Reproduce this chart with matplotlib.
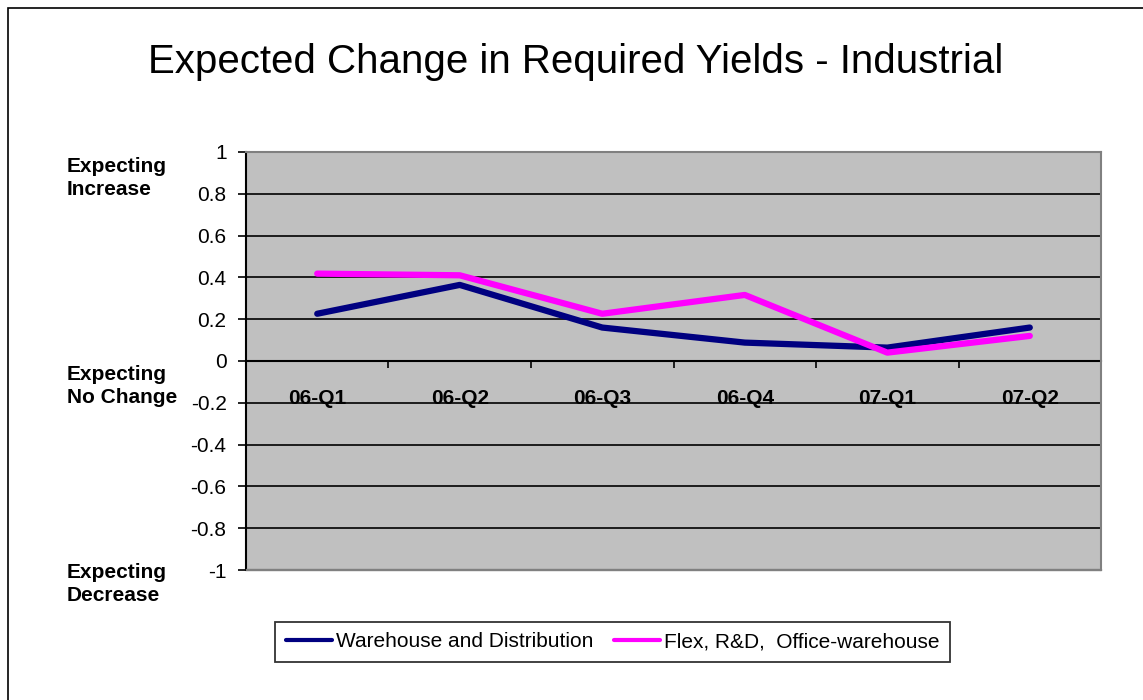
import matplotlib.pyplot as plt
import matplotlib.patches as patches
import numpy as np

plt.rcParams['font.family'] = ['Liberation Sans', 'DejaVu Sans']

# Data
quarters = ["06-Q1", "06-Q2", "06-Q3", "06-Q4", "07-Q1", "07-Q2"]
warehouse = [0.226, 0.364, 0.16, 0.088, 0.064, 0.16]
flex = [0.418, 0.41, 0.226, 0.316, 0.04, 0.12]
series_names = ["Warehouse and Distribution", "Flex, R&D,  Office-warehouse"]
y_ticks = [1, 0.8, 0.6, 0.4, 0.2, 0, -0.2, -0.4, -0.6, -0.8, -1]
y_tick_labels = ["1", "0.8", "0.6", "0.4", "0.2", "0", "-0.2", "-0.4", "-0.6", "-0.8", "-1"]
side_labels = ["Expecting\nIncrease", "Expecting\nNo Change", "Expecting\nDecrease"]

fig = plt.figure(figsize=(11.43, 7), dpi=100)
ax = fig.add_axes([0.2152, 0.1857, 0.7481, 0.5972])
ax.set_facecolor('#C0C0C0')

x = np.arange(len(quarters)) + 0.5
ax.plot(x, warehouse, color='#000080', lw=4.5, solid_capstyle='round',
        solid_joinstyle='round', label=series_names[0], zorder=3)
ax.plot(x, flex, color='#FF00FF', lw=4.5, solid_capstyle='round',
        solid_joinstyle='round', label=series_names[1], zorder=3)

ax.set_xlim(0, len(quarters))
ax.set_ylim(-1, 1)

# gridlines
for yv in y_ticks:
    ax.axhline(yv, color='black', lw=1.2, zorder=1)

ax.set_yticks(y_ticks)
ax.set_yticklabels(y_tick_labels, fontsize=15)
ax.tick_params(axis='y', direction='out', length=6, width=1.2, pad=8)

# category axis crossing at zero
ax.spines['bottom'].set_position(('data', 0))
ax.spines['bottom'].set_linewidth(1.5)
ax.spines['bottom'].set_zorder(2)
ax.set_xticks(x)
ax.set_xticklabels(quarters, fontsize=15, fontweight='bold')
ax.set_xticks(np.arange(len(quarters) + 1), minor=True)
ax.tick_params(axis='x', which='major', length=0, pad=20)
ax.tick_params(axis='x', which='minor', direction='out', length=5, width=1.2)

ax.spines['left'].set_color('black')
ax.spines['left'].set_linewidth(1.5)
for s in ['top', 'right']:
    ax.spines[s].set_color('#808080')
    ax.spines[s].set_linewidth(1.5)

# bottom border of plot area (spine moved to zero)
ax.add_patch(patches.Rectangle((0, 0), 1, 0.002, transform=ax.transAxes,
                               color='#808080', clip_on=False, zorder=4))

fig.text(0.5035, 0.912, "Expected Change in Required Yields - Industrial",
         fontsize=29, ha='center', va='center')

side_y = [178, 386, 584]
for lab, yp in zip(side_labels, side_y):
    fig.text(67 / 1143, 1 - yp / 700, lab, fontsize=15, fontweight='bold',
             ha='left', va='center', linespacing=1.3)

leg = fig.legend(loc='center', bbox_to_anchor=(0.536, 0.083), ncol=2,
                 fontsize=15, frameon=True, fancybox=False, handlelength=2.2,
                 handletextpad=0.2, columnspacing=1.0, borderpad=0.5)
leg.get_frame().set_edgecolor('black')
leg.get_frame().set_linewidth(1.3)
for line in leg.get_lines():
    line.set_linewidth(3)

# outer chart border
fig.patches.append(patches.Rectangle((8 / 1143, -0.05), 1.1, 1 - 8 / 700 + 0.05,
                                     transform=fig.transFigure, fill=False,
                                     edgecolor='black', lw=1.2))

plt.savefig("out.png", dpi=100)
